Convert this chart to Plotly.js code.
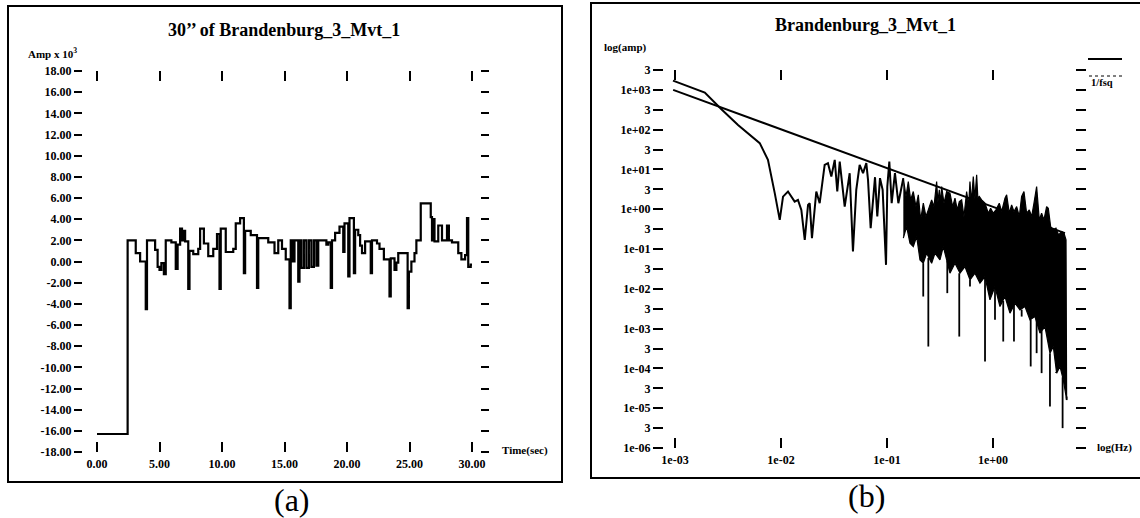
<!DOCTYPE html>
<html><head><meta charset="utf-8">
<script src="https://cdn.plot.ly/plotly-3.0.1.min.js"></script>
<style>html,body{margin:0;padding:0;background:#fff}#chart{width:1140px;height:518px}</style>
</head><body><div id="chart"></div>
<script>
// ---------- Panel (a): 30 s amplitude envelope (step signal) ----------
const timeSec = [0, 2.45, 3.1, 3.45, 3.9, 4.0, 4.65, 4.85, 5.0, 5.15, 5.35, 5.5, 5.95, 6.3, 6.45, 6.65, 6.8, 6.9, 7.05, 7.3, 7.4, 7.7, 8.1, 8.25, 8.55, 8.9, 9.3, 9.6, 9.8, 9.9, 10.3, 10.9, 11.1, 11.45, 11.75, 11.85, 12.3, 12.8, 12.9, 13.7, 14.2, 14.5, 14.8, 15.1, 15.4, 15.5, 15.65, 15.8, 16.1, 16.2, 16.35, 16.55, 16.75, 16.95, 17.15, 17.35, 17.55, 17.7, 18.35, 18.5, 18.7, 18.8, 19.05, 19.4, 19.7, 19.8, 20.1, 20.2, 20.55, 20.65, 20.9, 21.05, 21.2, 21.45, 21.9, 22.0, 22.4, 22.6, 22.95, 23.4, 23.5, 23.8, 23.95, 24.1, 24.85, 24.95, 25.15, 25.4, 25.55, 25.9, 26.7, 26.8, 26.9, 27.0, 27.3, 27.6, 28.0, 28.15, 28.4, 28.9, 29.15, 29.45, 29.6, 29.7, 29.9, 30.0];
const ampK = [-16.3, 2.0, 0.8, 0.0, -4.5, 2.0, 1.1, -0.5, -0.8, -0.15, -1.2, 2.0, 1.8, -0.7, 1.6, 3.1, 2.0, 2.9, 1.9, -2.6, 1.0, 0.7, 1.2, 3.1, 1.7, 0.5, 1.2, 2.6, -2.6, 3.1, 0.9, 1.2, 3.6, 4.1, -1.1, 2.9, 2.5, -2.5, 2.2, 1.8, 0.8, 2.0, 1.2, 0.2, -4.4, 2.0, 0.0, 2.0, -1.9, 2.0, -0.6, 2.0, -0.6, 2.0, -0.5, 2.0, -0.4, 2.0, 1.6, 1.8, -2.5, 2.0, 2.7, 3.3, 0.9, 3.6, -1.4, 4.1, -1.1, 3.0, 2.5, 1.5, 0.8, 1.9, -1.1, 2.0, 1.7, 1.2, 0.2, -3.3, 0.3, -0.8, -0.1, 0.8, -4.4, -0.95, 0.0, 0.8, 2.0, 5.5, 4.2, 2.0, 4.0, 1.9, 3.4, 2.0, 3.4, 2.0, 1.8, 0.8, 0.2, 0.6, 4.1, -0.5, -0.3, -0.3];
const timeTickVals = [0, 5, 10, 15, 20, 25, 30];
const timeTickText = ["0.00", "5.00", "10.00", "15.00", "20.00", "25.00", "30.00"];
const ampTickVals = [18, 16, 14, 12, 10, 8, 6, 4, 2, 0, -2, -4, -6, -8, -10, -12, -14, -16, -18];
const ampTickText = ["18.00", "16.00", "14.00", "12.00", "10.00", "8.00", "6.00", "4.00", "2.00", "0.00", "-2.00", "-4.00", "-6.00", "-8.00", "-10.00", "-12.00", "-14.00", "-16.00", "-18.00"];

// ---------- Panel (b): log-log spectrum ----------
// sparse low-frequency part of the spectrum
const specHz = [0.000957, 0.00191, 0.00274, 0.00393, 0.0063, 0.00753, 0.00873, 0.00973, 0.01045, 0.01164, 0.01346, 0.01445, 0.01556, 0.01675, 0.01799, 0.01866, 0.01959, 0.02153, 0.02317, 0.02582, 0.02773, 0.02985, 0.03214, 0.03396, 0.03581, 0.03758, 0.0399, 0.04446, 0.04775, 0.05129, 0.05521, 0.05943, 0.06383, 0.06622, 0.07015, 0.0771, 0.081, 0.0859, 0.091, 0.0979, 0.1007, 0.1052, 0.1107, 0.1189, 0.128, 0.1426];
const specAmp = [1714, 855, 327, 132, 45.8, 17.4, 2.54, 0.542, 2.08, 2.79, 1.56, 1.72, 0.966, 0.17, 1.29, 1.42, 0.188, 2.79, 1.42, 13.1, 14.4, 6.64, 17.4, 2.79, 15.8, 5.48, 1.17, 8.07, 0.0865, 3.07, 13.1, 8.07, 14.4, 5.48, 0.335, 6.4, 0.656, 6.04, 3.07, 0.0401, 3.72, 15.8, 1.42, 8.07, 1.42, 6.04];
// dense high-frequency part: upper and lower edges of the solid black mass
const upperHz = [0.1426, 0.1511, 0.1589, 0.1672, 0.1771, 0.1877, 0.1975, 0.2077, 0.2202, 0.2332, 0.2454, 0.2638, 0.2775, 0.2941, 0.302, 0.3116, 0.32, 0.3279, 0.3449, 0.3655, 0.3928, 0.4165, 0.4381, 0.4608, 0.4813, 0.5063, 0.5325, 0.5643, 0.59, 0.6067, 0.625, 0.6522, 0.675, 0.7015, 0.72, 0.743, 0.7817, 0.8403, 0.9035, 0.9504, 1.007, 1.067, 1.147, 1.207, 1.298, 1.346, 1.426, 1.5, 1.578, 1.673, 1.772, 1.864, 1.961, 2.078, 2.202, 2.317, 2.437, 2.582, 2.736, 2.877, 3.028, 3.208, 3.327, 3.499, 3.709, 3.929, 4.164, 4.444, 4.676, 4.89];
const upperAmp = [6.03, 2.09, 4.98, 1.72, 2.79, 1.17, 2.3, 0.542, 1.42, 0.657, 0.966, 1.72, 1.17, 4.98, 1.5, 3.07, 1.4, 3.73, 1.42, 2.79, 2.53, 1.17, 1.9, 0.966, 1.56, 1.72, 0.657, 2.79, 1.2, 4.98, 1.5, 6.64, 1.8, 7.32, 1.9, 2.09, 1.72, 1.42, 0.796, 1.06, 0.796, 0.966, 1.42, 0.877, 1.9, 2.3, 0.796, 1.29, 0.877, 1.17, 0.657, 2.09, 2.79, 0.796, 0.966, 0.657, 1.42, 3.73, 0.542, 0.796, 0.542, 1.17, 1.06, 0.368, 0.304, 0.334, 0.227, 0.276, 0.25, 0.17];
const lowerHz = [0.1426, 0.1533, 0.1648, 0.1771, 0.1905, 0.2048, 0.2202, 0.2367, 0.2638, 0.2836, 0.3162, 0.3399, 0.3928, 0.4381, 0.4884, 0.5442, 0.6067, 0.6764, 0.7538, 0.8403, 0.9369, 1.0445, 1.164, 1.298, 1.447, 1.613, 1.798, 2.004, 2.234, 2.49, 2.776, 3.095, 3.449, 3.709, 3.988, 4.287, 4.608, 4.954];
const lowerAmp = [0.1875, 0.368, 0.1404, 0.1158, 0.2064, 0.0535, 0.0441, 0.0787, 0.0441, 0.0787, 0.0535, 0.1158, 0.0247, 0.0441, 0.0247, 0.0364, 0.0168, 0.0247, 0.01388, 0.0204, 0.00529, 0.01144, 0.0036, 0.00642, 0.00245, 0.00436, 0.00297, 0.0036, 0.00166, 0.00202, 0.000769, 0.00113, 0.000242, 0.000356, 0.0000761, 0.000112, 0.0000517, 0.0000163];
// deep downward spikes below the black mass
const spikeHz = [0.2198, 0.2455, 0.3707, 0.4808, 0.607, 0.8414, 1.045, 1.25, 1.578, 1.866, 2.27, 2.582, 2.877, 3.449, 3.926, 4.539, 4.955];
const spikeTop = [0.0441, 0.06, 0.05, 0.0247, 0.0168, 0.0204, 0.0114, 0.005, 0.004, 0.003, 0.0017, 0.0019, 0.0009, 0.00024, 0.00008, 0.00006, 0.000016];
const spikeBottom = [0.00641, 0.000355, 0.0078, 0.000632, 0.0114, 0.000149, 0.00166, 0.000474, 0.000474, 0.00201, 0.000112, 0.000242, 0.0000762, 0.000011, 0.0000762, 0.00000316, 0.0000197];
// 1/fsq reference line
const fsqHz = [0.00096, 4.78];
const fsqAmp = [1000, 0.251];
const hzTickVals = [0.001, 0.01, 0.1, 1];
const hzTickText = ["1e-03", "1e-02", "1e-01", "1e+00"];
const logAmpTickVals = [3162.3, 1000, 316.23, 100, 31.623, 10, 3.1623, 1, 0.31623, 0.1, 0.031623, 0.01, 0.0031623, 0.001, 0.00031623, 0.0001, 0.000031623, 0.00001, 0.0000031623, 0.000001];
const logAmpTickText = ["3", "1e+03", "3", "1e+02", "3", "1e+01", "3", "1e+00", "3", "1e-01", "3", "1e-02", "3", "1e-03", "3", "1e-04", "3", "1e-05", "3", "1e-06"];

// ---------- layout helpers ----------
const W = 1140, H = 518;
const px = v => v / W;
const py = v => 1 - v / H;
const SERIF = "Liberation Serif, Times New Roman, serif";
const tickFont = {family: SERIF, size: 12, color: "#000", weight: "bold"};

const bandX = upperHz.concat(lowerHz.slice().reverse());
const bandY = upperAmp.concat(lowerAmp.slice().reverse());
const spX = [], spY = [];
spikeHz.forEach((f, i) => { spX.push(f, f, null); spY.push(spikeTop[i], spikeBottom[i], null); });

const traces = [
  {x: timeSec, y: ampK, type: "scatter", mode: "lines", line: {shape: "hv", color: "#000", width: 2.2}, xaxis: "x", yaxis: "y", hoverinfo: "skip"},
  {x: bandX, y: bandY, type: "scatter", mode: "lines", fill: "toself", fillcolor: "#000", line: {color: "#000", width: 1.2}, xaxis: "x2", yaxis: "y2", hoverinfo: "skip"},
  {x: spX, y: spY, type: "scatter", mode: "lines", line: {color: "#000", width: 1.8}, xaxis: "x2", yaxis: "y2", hoverinfo: "skip"},
  {x: specHz, y: specAmp, type: "scatter", mode: "lines", line: {color: "#000", width: 2}, xaxis: "x2", yaxis: "y2", hoverinfo: "skip"},
  {x: fsqHz, y: fsqAmp, type: "scatter", mode: "lines", line: {color: "#000", width: 2}, xaxis: "x2", yaxis: "y2", hoverinfo: "skip"}
];

const axBase = {showgrid: false, zeroline: false, showline: false, tickcolor: "#000", tickwidth: 2, tickfont: tickFont, mirror: "ticks", fixedrange: true, tickmode: "array"};

function ann(x, y, text, size, opts) {
  return Object.assign({x: px(x), y: py(y), xref: "paper", yref: "paper", text: text, showarrow: false,
    xanchor: "left", yanchor: "middle", font: {family: SERIF, size: size, color: "#000"}}, opts || {});
}

const layout = {
  width: W, height: H, margin: {l: 0, r: 0, t: 0, b: 0}, showlegend: false,
  paper_bgcolor: "#fff", plot_bgcolor: "rgba(0,0,0,0)",
  xaxis: Object.assign({}, axBase, {domain: [px(83), px(480)], range: [-1.12, 30.64], tickvals: timeTickVals, ticktext: timeTickText, ticks: "inside", ticklen: 10, ticklabelstandoff: 3, anchor: "y"}),
  yaxis: Object.assign({}, axBase, {domain: [py(452), py(71)], range: [-18, 18], tickvals: ampTickVals, ticktext: ampTickText, ticks: "outside", ticklen: 8, anchor: "x"}),
  xaxis2: Object.assign({}, axBase, {type: "log", domain: [px(664), px(1075)], range: [-3.104, 0.774], tickvals: hzTickVals, ticktext: hzTickText, ticks: "inside", ticklen: 10, ticklabelstandoff: 3, anchor: "y2"}),
  yaxis2: Object.assign({}, axBase, {type: "log", domain: [py(448), py(70)], range: [-6, 3.5], tickvals: logAmpTickVals, ticktext: logAmpTickText, ticks: "outside", ticklen: 10, anchor: "x2"}),
  shapes: [
    {type: "rect", xref: "paper", yref: "paper", x0: px(8), x1: px(562), y0: py(482), y1: py(6), line: {color: "#000", width: 2}},
    {type: "rect", xref: "paper", yref: "paper", x0: px(591), x1: px(1145), y0: py(478), y1: py(3), line: {color: "#000", width: 2}},
    {type: "line", xref: "paper", yref: "paper", x0: px(1088), x1: px(1122), y0: py(59), y1: py(59), line: {color: "#000", width: 2}},
    {type: "line", xref: "paper", yref: "paper", x0: px(1089), x1: px(1122), y0: py(76), y1: py(76), line: {color: "#000", width: 1, dash: "dot"}}
  ],
  annotations: [
    ann(284, 30, "<b>30’’ of Brandenburg_3_Mvt_1</b>", 18, {xanchor: "center"}),
    ann(865, 25, "<b>Brandenburg_3_Mvt_1</b>", 18, {xanchor: "center"}),
    ann(26, 53, "<b>Amp x 10<sup>3</sup></b>", 11),
    ann(602, 47, "<b>log(amp)</b>", 11),
    ann(500, 450, "<b>Time(sec)</b>", 11),
    ann(1095, 447, "<b>log(Hz)</b>", 11),
    ann(1089, 82, "<b>1/fsq</b>", 10.5),
    ann(292, 500, "(a)", 32, {xanchor: "center"}),
    ann(866, 496, "(b)", 32, {xanchor: "center"})
  ]
};

Plotly.newPlot("chart", traces, layout, {staticPlot: true, displayModeBar: false});
</script>
</body></html>
